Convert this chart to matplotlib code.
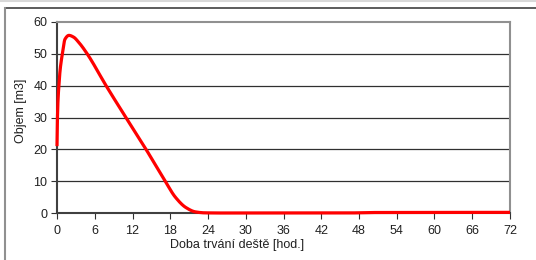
import matplotlib
matplotlib.use("Agg")
import matplotlib.pyplot as plt
from matplotlib.lines import Line2D
import numpy as np

plt.rcParams['font.family'] = ['Liberation Sans', 'DejaVu Sans']

hours = [0, 0.05, 0.15, 0.3, 0.5, 0.85, 1.27, 1.9, 2.6, 3.5, 4.8, 7.8, 10.95, 14.15, 17.2, 18.8, 20.5, 22, 23.5, 26, 36, 46, 50, 72]
volume = [21, 28, 35, 40, 45, 50, 54.6, 55.8, 55.3, 53.5, 50, 40, 30, 20, 10, 5, 1.7, 0.35, 0.05, 0, 0, 0, 0.15, 0.2]
xticks = [0, 6, 12, 18, 24, 30, 36, 42, 48, 54, 60, 66, 72]
yticks = [0, 10, 20, 30, 40, 50, 60]

W, H = 536, 260
fig = plt.figure(figsize=(W / 100, H / 100), dpi=100)
fig.patch.set_facecolor('white')

# outer chart frame (partly cut off)
fig.add_artist(Line2D([0, 1], [1 - 1 / H, 1 - 1 / H], color='#d8d8d8', lw=1.5, transform=fig.transFigure))
fig.add_artist(Line2D([5 / W, 1], [1 - 8 / H, 1 - 8 / H], color='#404040', lw=1.2, transform=fig.transFigure))
fig.add_artist(Line2D([5 / W, 5 / W], [0, 1 - 8 / H], color='#909090', lw=1.5, transform=fig.transFigure))

L, R, T, B = 57, 510, 22, 213
ax = fig.add_axes([L / W, 1 - B / H, (R - L) / W, (B - T) / H])


def pchip(x, y, xs):
    h = np.diff(x)
    d = np.diff(y) / h
    m = np.zeros_like(y)
    for k in range(1, len(x) - 1):
        if d[k - 1] * d[k] <= 0:
            m[k] = 0
        else:
            w1 = 2 * h[k] + h[k - 1]
            w2 = h[k] + 2 * h[k - 1]
            m[k] = (w1 + w2) / (w1 / d[k - 1] + w2 / d[k])
    m[0] = d[0]
    m[-1] = d[-1]
    idx = np.clip(np.searchsorted(x, xs) - 1, 0, len(x) - 2)
    t = (xs - x[idx]) / h[idx]
    h00 = 2 * t**3 - 3 * t**2 + 1
    h10 = t**3 - 2 * t**2 + t
    h01 = -2 * t**3 + 3 * t**2
    h11 = t**3 - t**2
    return h00 * y[idx] + h10 * h[idx] * m[idx] + h01 * y[idx + 1] + h11 * h[idx] * m[idx + 1]


hx = np.array(hours, dtype=float)
hy = np.array(volume, dtype=float)
xs = np.linspace(0, 72, 4000)
ys = pchip(hx, hy, xs)

for yv in yticks[1:-1]:
    ax.axhline(yv, color='#303030', lw=0.9, zorder=1)

ax.plot(xs, ys, color='#ff0000', lw=2.3, zorder=3, clip_on=False, solid_capstyle='butt')

ax.set_xlim(0, 72)
ax.set_ylim(0, 60)
ax.set_xticks(xticks)
ax.set_yticks(yticks)
ax.set_xticklabels([str(v) for v in xticks])
ax.set_yticklabels([str(v) for v in yticks])
ax.tick_params(axis='both', direction='out', length=4, width=0.8, color='#303030', labelsize=9, labelcolor='#202020', pad=3)
ax.tick_params(axis='x', pad=5)

for s in ['left', 'bottom']:
    ax.spines[s].set_color('#404040')
    ax.spines[s].set_linewidth(1.5)
for s in ['top', 'right']:
    ax.spines[s].set_color('#909090')
    ax.spines[s].set_linewidth(1.5)

fig.text(237 / W, 1 - 245 / H, 'Doba trvání deště [hod.]', ha='center', va='center', fontsize=9, color='#202020')
fig.text(21 / W, 1 - 111 / H, 'Objem [m3]', ha='center', va='center', rotation=90, fontsize=9, color='#202020')

fig.savefig('out.png', dpi=100, facecolor='white')
